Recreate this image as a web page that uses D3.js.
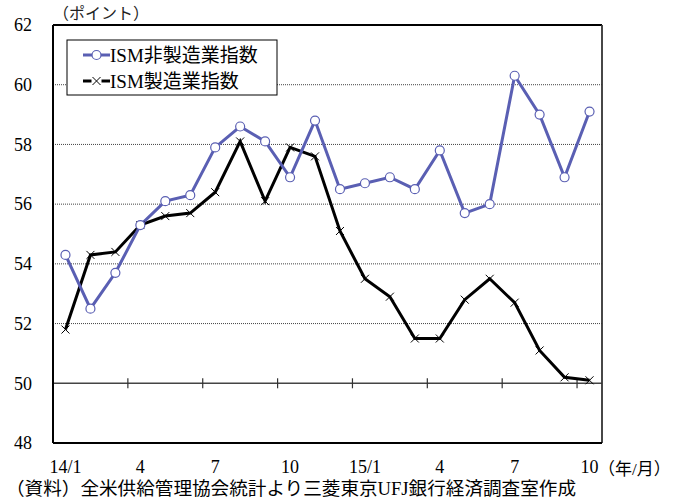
<!DOCTYPE html>
<html>
<head>
<meta charset="utf-8">
<script src="https://cdn.jsdelivr.net/npm/d3@7"></script>
<style>
  html, body { margin: 0; padding: 0; background: #fff; overflow: hidden; }
  svg { display: block; }
  text { font-family: "Liberation Serif", "Noto Sans CJK JP", serif; }
</style>
</head>
<body>
<div id="chart"></div>
<script>
FONT_SIZE = 18;

// month labels 14/1 .. 15/10
const months = ["14/1","2","3","4","5","6","7","8","9","10","11","12",
                "15/1","2","3","4","5","6","7","8","9","10"];
const tickLabels = ["14/1","4","7","10","15/1","4","7","10"];
const yTicks = [48, 50, 52, 54, 56, 58, 60, 62];

// ISM non-manufacturing index
const nonManufacturing = [54.3, 52.5, 53.7, 55.3, 56.1, 56.3, 57.9, 58.6, 58.1, 56.9, 58.8, 56.5,
                          56.7, 56.9, 56.5, 57.8, 55.7, 56.0, 60.3, 59.0, 56.9, 59.1];
// ISM manufacturing index
const manufacturing = [51.8, 54.3, 54.4, 55.3, 55.6, 55.7, 56.4, 58.1, 56.1, 57.9, 57.6, 55.1,
                       53.5, 52.9, 51.5, 51.5, 52.8, 53.5, 52.7, 51.1, 50.2, 50.1];

const seriesNames = ["ISM非製造業指数", "ISM製造業指数"];
const BLUE = "#5a5fb3";

const width = 682, height = 501;
const margin = { top: 25, right: 80, bottom: 58, left: 53 };
const innerWidth = width - margin.left - margin.right;
const innerHeight = height - margin.top - margin.bottom;

const svg = d3.select("#chart").append("svg")
    .attr("width", width)
    .attr("height", height);

const g = svg.append("g")
    .attr("transform", `translate(${margin.left}, ${margin.top})`);

const x = d3.scaleBand()
    .domain(d3.range(months.length))
    .range([0, innerWidth]);

const y = d3.scaleLinear()
    .domain([48, 62])
    .range([innerHeight, 0]);

const cx = i => x(i) + x.bandwidth() / 2;

// gridlines (dotted), 50 is the solid base line
g.selectAll(".grid")
    .data(yTicks.filter(v => v > 48 && v < 62 && v !== 50))
    .enter().append("line")
    .attr("x1", 0).attr("x2", innerWidth)
    .attr("y1", d => y(d)).attr("y2", d => y(d))
    .attr("stroke", "#444")
    .attr("stroke-width", 1)
    .attr("stroke-dasharray", "1,1");

g.append("line")
    .attr("x1", 0).attr("x2", innerWidth)
    .attr("y1", y(50)).attr("y2", y(50))
    .attr("stroke", "#444").attr("stroke-width", 1.5);

// tick marks crossing the 50 line every 3 months
g.selectAll(".xtick")
    .data(d3.range(3, months.length, 3))
    .enter().append("line")
    .attr("x1", d => x(d)).attr("x2", d => x(d))
    .attr("y1", y(50) - 5).attr("y2", y(50) + 5)
    .attr("stroke", "#333").attr("stroke-width", 1.2);

// frame
g.append("line").attr("x1", 0).attr("x2", innerWidth).attr("y1", 0).attr("y2", 0)
    .attr("stroke", "#000").attr("stroke-width", 2);
g.append("line").attr("x1", innerWidth).attr("x2", innerWidth).attr("y1", 0).attr("y2", innerHeight)
    .attr("stroke", "#333").attr("stroke-width", 1.8);
g.append("line").attr("x1", 0).attr("x2", innerWidth).attr("y1", innerHeight).attr("y2", innerHeight)
    .attr("stroke", "#000").attr("stroke-width", 2);
g.append("line").attr("x1", 0).attr("x2", 0).attr("y1", 0).attr("y2", innerHeight)
    .attr("stroke", "#000").attr("stroke-width", 2);

// y labels
g.selectAll(".ylab")
    .data(yTicks)
    .enter().append("text")
    .attr("x", -21)
    .attr("y", d => y(d))
    .attr("dy", "0.35em")
    .attr("text-anchor", "end")
    .style("font-size", `${FONT_SIZE}px`)
    .text(d => d);

// x labels
const labelIdx = d3.range(0, months.length, 3);
g.selectAll(".xlab")
    .data(labelIdx)
    .enter().append("text")
    .attr("x", d => cx(d))
    .attr("y", innerHeight + 30)
    .attr("text-anchor", "middle")
    .style("font-size", `${FONT_SIZE}px`)
    .text((d, i) => tickLabels[i]);

const line = d3.line()
    .x((d, i) => cx(i))
    .y(d => y(d));

// manufacturing
g.append("path")
    .datum(manufacturing)
    .attr("d", line)
    .attr("fill", "none")
    .attr("stroke", "#000")
    .attr("stroke-width", 3);

// non-manufacturing
g.append("path")
    .datum(nonManufacturing)
    .attr("d", line)
    .attr("fill", "none")
    .attr("stroke", BLUE)
    .attr("stroke-width", 3);

function crossPath(px, py, s) {
    return `M${px - s},${py - s}L${px + s},${py + s}M${px - s},${py + s}L${px + s},${py - s}`;
}

g.selectAll(".cross")
    .data(manufacturing)
    .enter().append("path")
    .attr("d", (d, i) => crossPath(cx(i), y(d), 4))
    .attr("stroke", "#000")
    .attr("stroke-width", 1);

g.selectAll(".dot")
    .data(nonManufacturing)
    .enter().append("circle")
    .attr("cx", (d, i) => cx(i))
    .attr("cy", d => y(d))
    .attr("r", 4.5)
    .attr("fill", "#fff")
    .attr("stroke", BLUE)
    .attr("stroke-width", 1.2);

// legend
const legend = g.append("g").attr("transform", "translate(14, 15)");
legend.append("rect")
    .attr("width", 210).attr("height", 55)
    .attr("fill", "#fff")
    .attr("stroke", "#000").attr("stroke-width", 1);

const rows = legend.selectAll(".row")
    .data(seriesNames)
    .enter().append("g")
    .attr("transform", (d, i) => `translate(16, ${15 + i * 26})`);

rows.append("line")
    .attr("x1", 0).attr("x2", 27).attr("y1", 0).attr("y2", 0)
    .attr("stroke", (d, i) => i === 0 ? BLUE : "#000")
    .attr("stroke-width", 3);

rows.filter((d, i) => i === 0).append("circle")
    .attr("cx", 13.5).attr("cy", 0).attr("r", 4.5)
    .attr("fill", "#fff").attr("stroke", BLUE).attr("stroke-width", 1.2);

rows.filter((d, i) => i === 1).append("rect")
    .attr("x", 8.5).attr("y", -5).attr("width", 10).attr("height", 10)
    .attr("fill", "#fff");
rows.filter((d, i) => i === 1).append("path")
    .attr("d", crossPath(13.5, 0, 4))
    .attr("stroke", "#000").attr("stroke-width", 1);

rows.append("text")
    .attr("x", 27)
    .attr("y", 0)
    .attr("dy", "0.35em")
    .style("font-size", "19px")
    .text(d => d);

// unit labels and source note
svg.append("text")
    .attr("x", 53).attr("y", 19)
    .style("font-size", "16px")
    .style("fill", "#222")
    .text("（ポイント）");

svg.append("text")
    .attr("x", 598).attr("y", 475)
    .style("font-size", "17px")
    .text("（年/月）");

svg.append("text")
    .attr("x", 6).attr("y", 495)
    .style("font-size", "18px")
    .attr("textLength", 570)
    .attr("lengthAdjust", "spacingAndGlyphs")
    .text("（資料）全米供給管理協会統計より三菱東京UFJ銀行経済調査室作成");
</script>
</body>
</html>
